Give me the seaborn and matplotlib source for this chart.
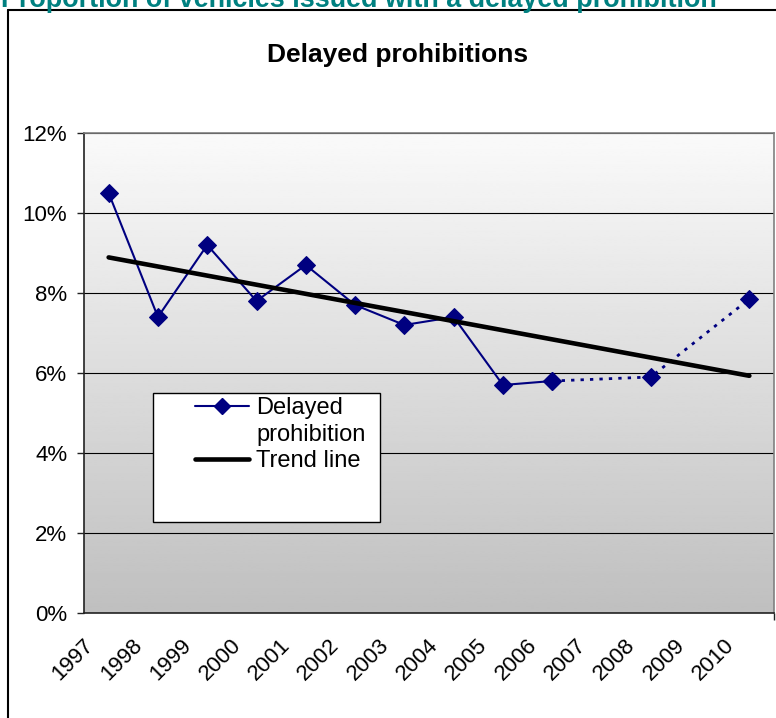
import numpy as np
import pandas as pd
import matplotlib
matplotlib.use("Agg")
import matplotlib.pyplot as plt
import seaborn as sns
from matplotlib.lines import Line2D
from matplotlib.patches import Rectangle
from matplotlib.transforms import ScaledTranslation

# data
years = [1997, 1998, 1999, 2000, 2001, 2002, 2003, 2004, 2005, 2006, 2007, 2008, 2009, 2010]
rates = [10.5, 7.4, 9.2, 7.8, 8.7, 7.7, 7.2, 7.4, 5.7, 5.8, np.nan, 5.9, np.nan, 7.85]
trend_years = [1997, 2010]
trend_rates = [8.89, 5.93]
y_ticks = [0, 2, 4, 6, 8, 10, 12]
y_labels = ["0%", "2%", "4%", "6%", "8%", "10%", "12%"]

navy = "#000080"
teal = "#008080"

df = pd.DataFrame({"year": years, "rate": rates})
df["pos"] = np.arange(len(df))
solid = df[df.year <= 2006]
dotted = df[df.year >= 2006].dropna()
trend = pd.DataFrame({"pos": [years.index(y) for y in trend_years], "rate": trend_rates})

sns.set_style("white")
plt.rcParams["font.family"] = ["Liberation Sans", "DejaVu Sans"]
plt.rcParams["text.color"] = "black"
plt.rcParams["xtick.color"] = "black"
plt.rcParams["ytick.color"] = "black"

fig = plt.figure(figsize=(7.76, 7.18), dpi=100)
ax = fig.add_axes([84 / 776, 105 / 718, 690 / 776, 480 / 718])

# plot area gradient, white at top to grey at bottom
grad = np.linspace(0.98, 0.75, 256).reshape(-1, 1)
ax.imshow(grad, cmap="gray", vmin=0, vmax=1, aspect="auto",
          extent=[0, 1, 0, 1], transform=ax.transAxes, zorder=0)

sns.lineplot(data=solid, x="pos", y="rate", color=navy, lw=1.5, marker="D",
             markersize=9, markeredgecolor=navy, ax=ax, zorder=4)
sns.lineplot(data=dotted, x="pos", y="rate", color=navy, lw=2, linestyle=(0, (1.2, 2.2)),
             marker="D", markersize=9, markeredgecolor=navy, ax=ax, zorder=4)
sns.lineplot(data=trend, x="pos", y="rate", color="black", lw=3.3, ax=ax, zorder=5)

ax.set_xlim(-0.5, len(years) - 0.5)
ax.set_ylim(0, 12)
ax.set_xlabel("")
ax.set_ylabel("")

# category boundaries as tick marks, year labels hung under them
ax.set_xticks(np.arange(len(years) + 1) - 0.5, minor=True)
ax.set_xticks(np.arange(len(years)) - 0.5)
ax.set_xticklabels(years)
ax.tick_params(axis="x", which="minor", length=5, width=1, color="#222222", direction="out", bottom=True)
ax.tick_params(axis="x", which="major", length=0, pad=21, labelsize=16)
offset = ScaledTranslation(6 / 100, 0, fig.dpi_scale_trans)
for lbl in ax.get_xticklabels():
    lbl.set_rotation(45)
    lbl.set_ha("right")
    lbl.set_va("center")
    lbl.set_rotation_mode("anchor")
    lbl.set_transform(lbl.get_transform() + offset)

ax.set_yticks(y_ticks)
ax.set_yticklabels(y_labels)
ax.tick_params(axis="y", length=5, width=1, color="#222222", direction="out", left=True, pad=7, labelsize=16)

ax.grid(axis="y", color="black", lw=0.8)
ax.grid(axis="x", visible=False)
for side in ["left", "bottom"]:
    ax.spines[side].set_color("#222222")
    ax.spines[side].set_linewidth(1.2)
for side in ["top", "right"]:
    ax.spines[side].set_color("#808080")
    ax.spines[side].set_linewidth(1.2)

# legend box
fig.add_artist(Rectangle((153 / 776, 1 - 522 / 718), 227 / 776, 129 / 718,
                         transform=fig.transFigure, facecolor="white",
                         edgecolor="black", lw=1, zorder=6))
handles = [Line2D([], [], color=navy, lw=1.5, marker="D", markersize=8),
           Line2D([], [], alpha=0),
           Line2D([], [], color="black", lw=3.3)]
fig.legend(handles, ["Delayed", "prohibition", "Trend line"], loc="upper left",
           bbox_to_anchor=(195 / 776, 1 - 397 / 718), frameon=False, fontsize=17,
           handlelength=2.3, handletextpad=0.3, labelspacing=0.2,
           borderpad=0, borderaxespad=0).set_zorder(7)

# chart frame and titles
fig.add_artist(Line2D([8 / 776, 8 / 776], [0, 1 - 10 / 718], transform=fig.transFigure,
                      color="black", lw=1.5))
fig.add_artist(Line2D([8 / 776, 1], [1 - 10 / 718, 1 - 10 / 718], transform=fig.transFigure,
                      color="black", lw=1.5))
fig.text(398 / 776, 1 - 55 / 718, "Delayed prohibitions", ha="center", va="center",
         fontsize=19, fontweight="bold")
fig.text(1 / 776, 1 - 7 / 718, "Proportion of vehicles issued with a delayed prohibition",
         ha="left", va="baseline", fontsize=19.4, fontweight="bold", color=teal)

fig.savefig("out.png", dpi=100)
